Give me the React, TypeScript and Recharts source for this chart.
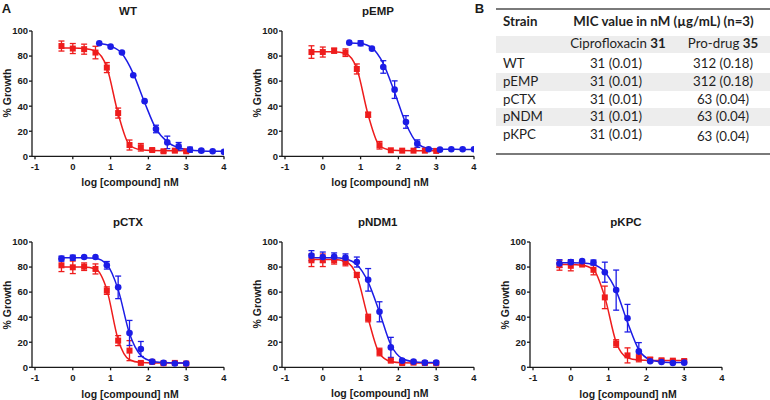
import { ComposedChart, ErrorBar, Line, Scatter, XAxis, YAxis } from "recharts";

const RED = "#ee1c1c";
const BLUE = "#1c1ce6";

const doseLow = [-0.3, 0, 0.3, 0.6, 0.9, 1.2, 1.5, 1.8, 2.1, 2.4, 2.7, 3.0];
const doseHigh = [0.7, 1.0, 1.3, 1.6, 1.9, 2.2, 2.5, 2.8, 3.1, 3.4, 3.7, 4.0];
const xTicks = [-1, 0, 1, 2, 3, 4];
const yTicks = [0, 20, 40, 60, 80, 100];

// WT
const wtCipro = [88, 86, 85.5, 82.8, 70.8, 34.5, 9, 7.2, 5, 4, 4.5, 4];
const wtCiproErr = [4, 4, 4, 5, 4, 4, 4, 3, 1, 1, 1, 1];
const wtCiproFit = [86.5, 86.4, 86, 84, 71, 34, 9, 5.2, 4.6, 4.5, 4.5, 4.5];
const wtProdrug = [90.2, 87.5, 82.8, 64.7, 44, 21.8, 11.1, 8, 5.3, 4.5, 4, 3.5];
const wtProdrugErr = [0, 0, 0, 0, 0, 3, 5, 3, 2, 1, 0, 0];
const wtProdrugFit = [90, 88, 82, 66, 43, 22, 11.5, 6.8, 5, 4.3, 4, 4];

// pEMP
const emCipro = [83.2, 83.2, 84.3, 82.7, 69.7, 33.2, 8.8, 4.8, 4.5, 4.5, 4.5, 4.3];
const emCiproErr = [5, 4, 2, 3, 4, 2, 3, 0, 0, 0, 0, 0];
const emCiproFit = [83.5, 83.5, 83.4, 82, 70, 33, 8.5, 5, 4.6, 4.5, 4.5, 4.5];
const emProdrug = [90.7, 90.2, 85.9, 71.3, 53.2, 27.4, 10.1, 5.6, 5.3, 5.6, 5.6, 5.6];
const emProdrugErr = [0, 2, 0, 5, 7, 5, 3, 0, 0, 0, 0, 0];
const emProdrugFit = [90.5, 90, 86.5, 74, 51, 26, 10.5, 6.3, 5.7, 5.6, 5.5, 5.5];

// pCTX
const ctCipro = [81.4, 79.8, 80.3, 78.5, 61.2, 21.3, 13.3, 3.5, 4.3, 3.2, 3.5, 3];
const ctCiproErr = [5, 5, 3, 4, 3, 4, 8, 1, 1, 1, 1, 1];
const ctCiproFit = [80, 80, 80, 78.5, 62, 22, 6, 3.8, 3.5, 3.5, 3.5, 3.5];
const ctProdrug = [86.7, 87.5, 88, 88, 81.4, 63.8, 27.4, 14.6, 4.5, 3.5, 3, 3];
const ctProdrugErr = [2, 2, 0, 0, 3, 9, 10, 6, 1, 0, 0, 0];
const ctProdrugFit = [87.5, 87.5, 87.5, 87, 82, 62, 27, 9.5, 4.8, 3.8, 3.5, 3.5];

// pNDM1
const ndCipro = [85.4, 85.4, 85.4, 84, 73.7, 39.3, 12.2, 5.3, 3.4, 3.7, 3.4, 3.2];
const ndCiproErr = [5, 5, 3, 3, 2, 3, 3, 1, 1, 1, 1, 1];
const ndCiproFit = [86, 86, 86, 84.5, 73, 39, 11, 4.6, 3.6, 3.5, 3.5, 3.5];
const ndProdrug = [89.1, 88, 88.3, 87.5, 84, 69.8, 44.3, 15.9, 5.3, 4.5, 3.7, 3.7];
const ndProdrugErr = [4, 4, 3, 3, 4, 9, 8, 8, 1, 0, 0, 0];
const ndProdrugFit = [87.5, 87.5, 87.5, 86.5, 82, 68, 44, 18, 7, 4.5, 3.9, 3.8];

// pKPC
const kpCipro = [81.5, 81, 82, 77.8, 55.8, 19, 9.5, 7.4, 6, 5.6, 5.3, 5];
const kpCiproErr = [4, 4, 0, 4, 9, 3, 6, 3, 2, 1, 1, 1];
const kpCiproFit = [82, 82, 81.5, 78, 56, 20, 7.5, 5.8, 5.5, 5.5, 5.5, 5.5];
const kpProdrug = [82.8, 83.9, 84.7, 83.6, 75.9, 61.6, 39.2, 12.7, 4.8, 4.2, 3.4, 3.7];
const kpProdrugErr = [3, 2, 0, 2, 8, 16, 11, 7, 0, 0, 0, 0];
const kpProdrugFit = [83.5, 83.5, 83.3, 82, 76, 61, 36, 14, 6, 4.3, 3.9, 3.8];

// table B
const strains = ["WT", "pEMP", "pCTX", "pNDM", "pKPC"];
const ciproMic = ["31 (0.01)", "31 (0.01)", "31 (0.01)", "31 (0.01)", "31 (0.01)"];
const prodrugMic = ["312 (0.18)", "312 (0.18)", "63 (0.04)", "63 (0.04)", "63 (0.04)"];

const pts = (xs: number[], ys: number[], errs?: number[]) =>
  xs.map((x, i) => ({ x, y: ys[i], err: errs ? errs[i] : 0 }));

const FONT = "'Liberation Sans', Arial, sans-serif";
const INK = "#1a1a1a";

const square = (p: any) => (
  <rect x={p.cx - 3} y={p.cy - 3} width={6} height={6} fill={RED} />
);
const circle = (p: any) => <circle cx={p.cx} cy={p.cy} r={3.3} fill={BLUE} />;

type PanelProps = {
  title: string;
  axisX: number;
  plotTop: number;
  redX: number[];
  red: number[];
  redErr: number[];
  redFit: number[];
  blueX: number[];
  blue: number[];
  blueErr: number[];
  blueFit: number[];
};

const PLOT_H = 125.3;

function Panel(p: PanelProps) {
  const W = 231;
  const H = 30 + PLOT_H + 36;
  const tick = { fontSize: 9.5, fontWeight: 700, fill: INK, fontFamily: FONT };
  const axis = { stroke: INK, strokeWidth: 1.3 };
  const centered: React.CSSProperties = {
    position: "absolute",
    transform: "translate(-50%, -50%)",
    whiteSpace: "nowrap",
    lineHeight: 1,
    fontFamily: FONT,
    fontWeight: 700,
    color: INK,
  };
  return (
    <>
      <div style={{ position: "absolute", left: p.axisX - 30, top: p.plotTop - 30 }}>
        <ComposedChart width={W} height={H} margin={{ top: 30, right: 9, bottom: 0, left: 0 }}>
          <XAxis
            type="number"
            dataKey="x"
            domain={[-1, 4]}
            ticks={xTicks}
            padding={{ left: 3, right: 0 }}
            height={36}
            tick={tick}
            tickSize={3}
            tickMargin={4}
            axisLine={axis}
            tickLine={axis}
            allowDataOverflow
          />
          <YAxis
            type="number"
            dataKey="y"
            domain={[0, 100]}
            ticks={yTicks}
            width={30}
            tick={tick}
            tickSize={3}
            tickMargin={1}
            axisLine={axis}
            tickLine={axis}
          />
          <Line
            data={pts(p.redX, p.redFit)}
            dataKey="y"
            type="monotone"
            stroke={RED}
            strokeWidth={1.5}
            dot={false}
            isAnimationActive={false}
          />
          <Scatter data={pts(p.redX, p.red, p.redErr)} dataKey="y" shape={square} isAnimationActive={false}>
            <ErrorBar dataKey="err" direction="y" width={3} stroke={RED} strokeWidth={1.3} />
          </Scatter>
          <Line
            data={pts(p.blueX, p.blueFit)}
            dataKey="y"
            type="monotone"
            stroke={BLUE}
            strokeWidth={1.5}
            dot={false}
            isAnimationActive={false}
          />
          <Scatter data={pts(p.blueX, p.blue, p.blueErr)} dataKey="y" shape={circle} isAnimationActive={false}>
            <ErrorBar dataKey="err" direction="y" width={3} stroke={BLUE} strokeWidth={1.3} />
          </Scatter>
        </ComposedChart>
      </div>
      <div style={{ ...centered, left: p.axisX + 96, top: p.plotTop - 19, fontSize: 11.5 }}>{p.title}</div>
      <div
        style={{
          ...centered,
          left: p.axisX - 25,
          top: p.plotTop + PLOT_H / 2,
          fontSize: 10.5,
          transform: "translate(-50%, -50%) rotate(-90deg)",
        }}
      >
        % Growth
      </div>
      <div style={{ ...centered, left: p.axisX + 98, top: p.plotTop + PLOT_H + 26.3, fontSize: 10.5 }}>
        log [compound] nM
      </div>
    </>
  );
}

function MicTable() {
  const tf = "Lato, 'Open Sans', sans-serif";
  const rowTop = 55.3;
  const rowH = 17.7;
  const txt: React.CSSProperties = {
    position: "absolute",
    whiteSpace: "nowrap",
    lineHeight: 1,
    fontFamily: tf,
    fontSize: 13.3,
    color: "#1f1f1f",
  };
  const mid: React.CSSProperties = { ...txt, transform: "translate(-50%, -50%)" };
  const left: React.CSSProperties = { ...txt, transform: "translateY(-50%)" };
  return (
    <>
      <div style={{ position: "absolute", left: 496, top: 7.5, width: 274, height: 2, background: "#7a7a7a" }} />
      <div style={{ position: "absolute", left: 496, top: 36, width: 274, height: 16.5, background: "#ededed" }} />
      {strains.map((s, i) =>
        i % 2 === 1 ? (
          <div
            key={"bg" + s}
            style={{ position: "absolute", left: 496, top: rowTop + i * rowH, width: 274, height: rowH, background: "#ededed" }}
          />
        ) : null
      )}
      <div style={{ position: "absolute", left: 496, top: 153.3, width: 274, height: 2, background: "#7a7a7a" }} />
      <div style={{ ...left, left: 503, top: 21.7, fontWeight: 700 }}>Strain</div>
      <div style={{ ...mid, left: 663.5, top: 21.7, fontWeight: 700 }}>MIC value in nM (µg/mL) (n=3)</div>
      <div style={{ ...mid, left: 618, top: 44.3 }}>
        Ciprofloxacin <b>31</b>
      </div>
      <div style={{ ...mid, left: 723, top: 44.3 }}>
        Pro-drug <b>35</b>
      </div>
      {strains.map((s, i) => {
        const cy = rowTop + i * rowH + rowH / 2;
        return (
          <div key={s}>
            <div style={{ ...left, left: 503, top: cy }}>{s}</div>
            <div style={{ ...mid, left: 616, top: cy }}>{ciproMic[i]}</div>
            <div style={{ ...mid, left: 723, top: cy + (i === 4 ? 2.5 : 0) }}>{prodrugMic[i]}</div>
          </div>
        );
      })}
    </>
  );
}

export default function App() {
  const letter: React.CSSProperties = {
    position: "absolute",
    transform: "translate(-50%, -50%)",
    fontFamily: FONT,
    fontWeight: 700,
    fontSize: 13,
    lineHeight: 1,
    color: INK,
  };
  return (
    <div style={{ position: "absolute", left: 0, top: 0, width: 770, height: 400, background: "#fff" }}>
      <div style={{ ...letter, left: 6.5, top: 7.5 }}>A</div>
      <div style={{ ...letter, left: 479.5, top: 7.5 }}>B</div>
      <Panel
        title="WT"
        axisX={32}
        plotTop={30.7}
        redX={doseLow}
        red={wtCipro}
        redErr={wtCiproErr}
        redFit={wtCiproFit}
        blueX={doseHigh}
        blue={wtProdrug}
        blueErr={wtProdrugErr}
        blueFit={wtProdrugFit}
      />
      <Panel
        title="pEMP"
        axisX={282}
        plotTop={30.7}
        redX={doseLow}
        red={emCipro}
        redErr={emCiproErr}
        redFit={emCiproFit}
        blueX={doseHigh}
        blue={emProdrug}
        blueErr={emProdrugErr}
        blueFit={emProdrugFit}
      />
      <Panel
        title="pCTX"
        axisX={32}
        plotTop={242.3}
        redX={doseLow}
        red={ctCipro}
        redErr={ctCiproErr}
        redFit={ctCiproFit}
        blueX={doseLow}
        blue={ctProdrug}
        blueErr={ctProdrugErr}
        blueFit={ctProdrugFit}
      />
      <Panel
        title="pNDM1"
        axisX={281.7}
        plotTop={241.5}
        redX={doseLow}
        red={ndCipro}
        redErr={ndCiproErr}
        redFit={ndCiproFit}
        blueX={doseLow}
        blue={ndProdrug}
        blueErr={ndProdrugErr}
        blueFit={ndProdrugFit}
      />
      <Panel
        title="pKPC"
        axisX={530}
        plotTop={242}
        redX={doseLow}
        red={kpCipro}
        redErr={kpCiproErr}
        redFit={kpCiproFit}
        blueX={doseLow}
        blue={kpProdrug}
        blueErr={kpProdrugErr}
        blueFit={kpProdrugFit}
      />
      <MicTable />
    </div>
  );
}
